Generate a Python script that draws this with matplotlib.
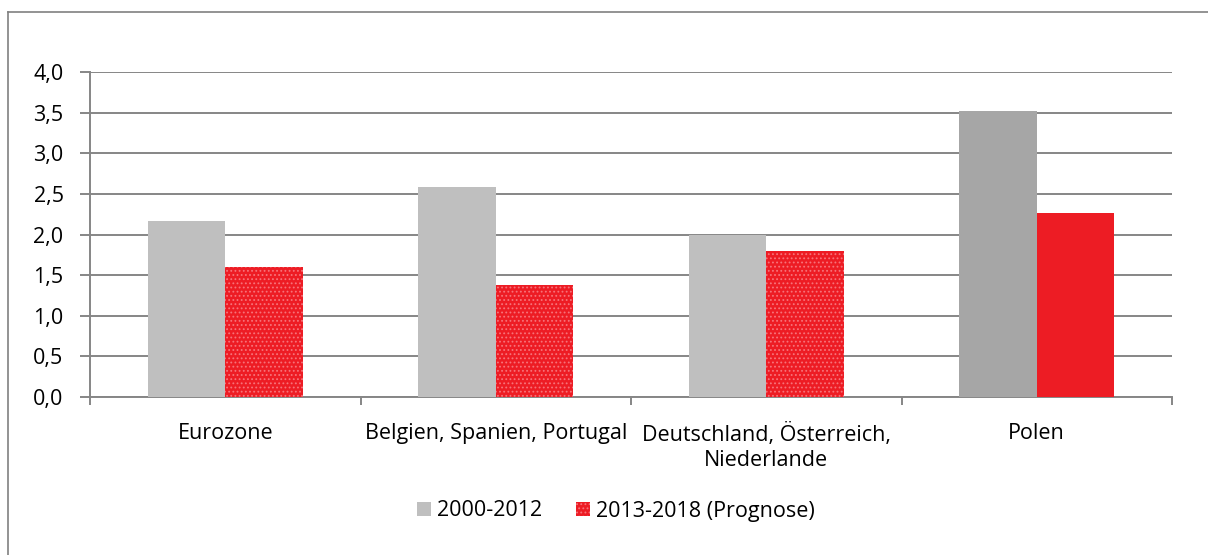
import numpy as np
import matplotlib.pyplot as plt
from matplotlib.patches import Patch
from matplotlib.lines import Line2D

plt.rcParams['font.family'] = ['Open Sans', 'DejaVu Sans']
plt.rcParams['hatch.linewidth'] = 0.8

# --------------------------------------------------
# Data
# --------------------------------------------------
categories = ["Eurozone", "Belgien, Spanien, Portugal",
              "Deutschland, Österreich,\nNiederlande", "Polen"]
values_2000_2012 = [2.17, 2.58, 2.0, 3.52]
values_2013_2018 = [1.60, 1.38, 1.80, 2.26]
series_labels = ["2000-2012", "2013-2018 (Prognose)"]
yticks = [0.0, 0.5, 1.0, 1.5, 2.0, 2.5, 3.0, 3.5, 4.0]

fs = 15.5

fig = plt.figure(figsize=(12.08, 5.55), dpi=100)
ax = fig.add_axes([90 / 1208, 1 - 397 / 555, 1082 / 1208, 325 / 555])

x = np.arange(len(categories))
w = 0.286
gray = ["#BFBFBF", "#BFBFBF", "#BFBFBF", "#A6A6A6"]
ax.bar(x - w / 2, values_2000_2012, w, color=gray, zorder=3, linewidth=0)
for i, v in enumerate(values_2013_2018):
    if i < 3:
        ax.bar(x[i] + w / 2, v, w, color="#ED1C24", edgecolor="#F7737A",
               hatch="....", linewidth=0, zorder=3)
    else:
        ax.bar(x[i] + w / 2, v, w, color="#ED1C24", linewidth=0, zorder=3)

ax.set_xlim(-0.5, 3.5)
ax.set_ylim(0, 4.0)
ax.set_yticks(yticks)
ax.set_yticklabels([f"{t:.1f}".replace(".", ",") for t in yticks], fontsize=fs)
ax.yaxis.grid(True, color="#868686", linewidth=1.4, zorder=0)
ax.set_xticks(x)
ax.set_xticklabels(categories, fontsize=fs, linespacing=1.2)
ax.tick_params(axis="x", length=0, pad=19)
ax.set_xticks([-0.5, 0.5, 1.5, 2.5, 3.5], minor=True)
ax.tick_params(axis="x", which="minor", length=6, color="#868686", width=1.4)
ax.tick_params(axis="y", length=7, color="#868686", width=1.4, pad=12)
for s in ["top", "right"]:
    ax.spines[s].set_visible(False)
for s in ["left", "bottom"]:
    ax.spines[s].set_color("#868686")
    ax.spines[s].set_linewidth(1.4)

handles = [Patch(facecolor="#BFBFBF", linewidth=0),
           Patch(facecolor="#ED1C24", edgecolor="#F7737A", hatch="....", linewidth=0)]
fig.legend(handles, series_labels, loc="center", bbox_to_anchor=(616 / 1208, 1 - 511 / 555),
           ncol=2, frameon=False, fontsize=fs, handlelength=0.65, handleheight=0.65,
           columnspacing=1.6, handletextpad=0.25)

# outer frame
fig.add_artist(Line2D([8 / 1208, 8 / 1208], [0, 1 - 12 / 555], color="#808080", linewidth=1.2))
fig.add_artist(Line2D([8 / 1208, 1], [1 - 12 / 555, 1 - 12 / 555], color="#808080", linewidth=1.2))

fig.savefig("out.png", dpi=100)
